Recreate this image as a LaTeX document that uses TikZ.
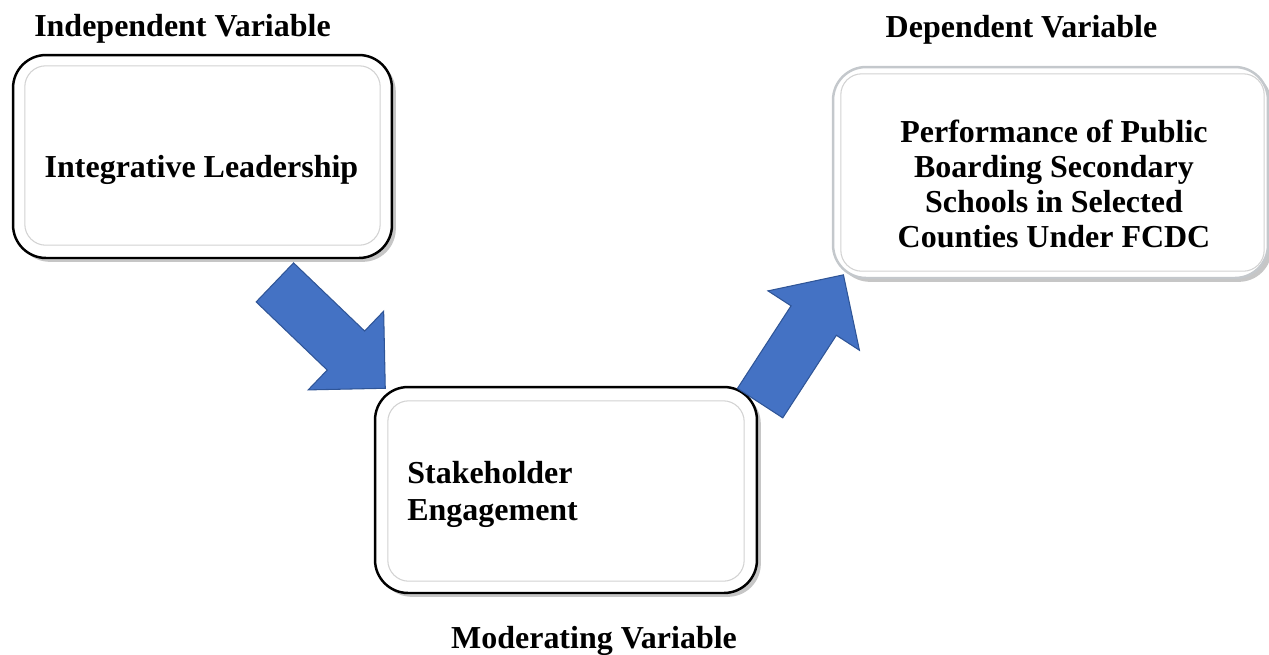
\documentclass[tikz,border=0pt]{standalone}
\usepackage{fontspec}
\setmainfont{Liberation Serif}
\usetikzlibrary{shapes.arrows,shadows}
\definecolor{arrowblue}{HTML}{4472C4}
\definecolor{arrowedge}{HTML}{2F5597}
\definecolor{bevel}{HTML}{D2D2D2}
\definecolor{softrim}{HTML}{C4C8CC}

\begin{document}
\begin{tikzpicture}[x=0.02cm,y=-0.02cm,
  varbox/.style={draw=black,line width=1.4pt,fill=white,rounded corners=0.66cm,
    drop shadow={shadow xshift=2.2pt,shadow yshift=-2.2pt,opacity=0.45}},
  softbox/.style={varbox,draw=softrim},
  bevel/.style={draw=bevel,line width=0.6pt,rounded corners=0.42cm},
  lbl/.style={font=\bfseries\fontsize{18.2}{21}\selectfont,inner sep=0pt},
  flow/.style={single arrow,fill=arrowblue,draw=arrowedge,line width=0.6pt,
    minimum height=3.06cm,single arrow head extend=0.55cm,inner xsep=0pt,inner ysep=0.53cm}]
  \useasboundingbox (0,0) rectangle (1269,654);
  % the three variable boxes
  \node[varbox,minimum width=7.58cm,minimum height=4.06cm] (lead) at (202.5,156.5) {};
  \node[softbox,minimum width=8.7cm,minimum height=4.22cm] (perf) at (1050.5,172.5) {};
  \node[varbox,minimum width=7.64cm,minimum height=4.12cm] (engage) at (566,490) {};
  \foreach \n/\l/\t/\r/\b in {lead/13/12/13/14,perf/9/8/5/8,engage/14/15/14/13}
    \draw[bevel] ([shift={(\l,\t)}]\n.north west) rectangle ([shift={(-\r,-\b)}]\n.south east);
  % block arrows
  \node[flow,rotate=-43.8,anchor=tip] (into) at ([shift={(12,3)}]engage.north west) {};
  \node[flow,rotate=57,anchor=tip] (outof) at ([shift={(12,-5)}]perf.south west) {};
  % headings
  \node[lbl,anchor=base] (ivtitle) at (182.5,36) {Independent Variable};
  \node[lbl,anchor=base] (dvtitle) at (1021.5,37) {Dependent Variable};
  \node[lbl,anchor=base] (mvtitle) at (594,648) {Moderating Variable};
  % box texts (base = last line)
  \node[lbl,anchor=base] (leadtxt) at (201.5,177) {Integrative Leadership};
  \node[lbl,align=center,anchor=base,font=\bfseries\fontsize{18.2}{19.75}\selectfont] (perftxt) at (1054,247)
    {Performance of Public\\Boarding Secondary\\Schools in Selected\\Counties Under FCDC};
  \node[lbl,align=left,anchor=base west] (engtxt) at (407,520) {Stakeholder\\Engagement};
\end{tikzpicture}
\end{document}
